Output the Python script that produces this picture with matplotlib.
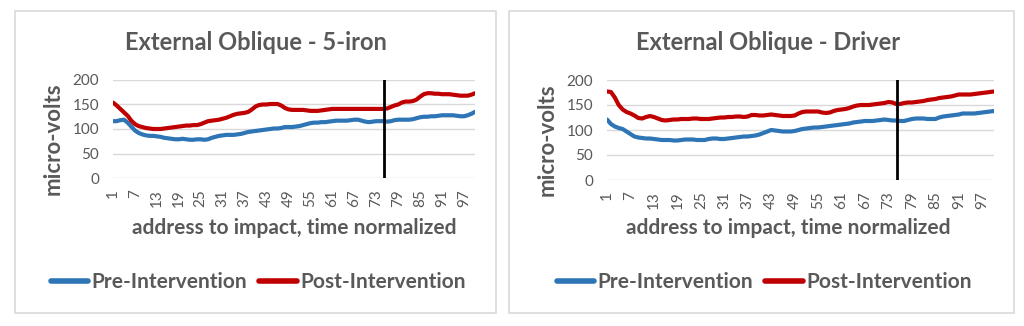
import numpy as np
import matplotlib
matplotlib.use("Agg")
import matplotlib.pyplot as plt
from matplotlib.patches import Rectangle

plt.rcParams['font.family'] = ['Lato', 'DejaVu Sans']

# time normalized samples, address (1) to impact (100)
samples = list(range(1, 101))
tick_labels = [str(i) for i in range(1, 101, 6)]

titles = ["External Oblique - 5-iron", "External Oblique - Driver"]
impact_mark = [75.2, 75.1]

iron_pre = [116, 116, 118, 119, 113, 105, 97, 92, 89, 87,
            86, 86, 85, 84, 82, 81, 80, 79, 79, 80,
            79, 78, 78, 79, 79, 78, 79, 82, 84, 86,
            87, 88, 88, 88, 89, 90, 92, 94, 95, 96,
            97, 98, 99, 100, 101, 101, 102, 104, 104, 104,
            105, 106, 108, 110, 112, 113, 113, 114, 114, 115,
            116, 117, 117, 117, 117, 118, 119, 119, 117, 115,
            114, 115, 116, 116, 116, 115, 116, 118, 119, 119,
            119, 119, 120, 122, 124, 125, 125, 126, 126, 127,
            128, 128, 128, 128, 127, 126, 126, 128, 131, 135]

iron_post = [154, 148, 141, 134, 127, 117, 110, 106, 104, 102,
             101, 100, 100, 100, 101, 102, 103, 104, 105, 106,
             107, 107, 108, 108, 110, 113, 116, 117, 118, 119,
             121, 123, 126, 129, 131, 132, 133, 135, 140, 146,
             149, 150, 150, 151, 151, 151, 148, 143, 140, 139,
             139, 139, 139, 138, 137, 137, 137, 138, 139, 140,
             141, 141, 141, 141, 141, 141, 141, 141, 141, 141,
             141, 141, 141, 141, 141, 142, 145, 148, 150, 154,
             156, 156, 157, 160, 166, 171, 173, 173, 172, 172,
             171, 171, 171, 170, 169, 168, 168, 168, 170, 173]

driver_pre = [121, 112, 107, 104, 102, 97, 92, 87, 85, 84,
              83, 83, 82, 81, 80, 80, 80, 79, 79, 80,
              81, 81, 81, 80, 80, 80, 82, 83, 83, 82,
              82, 83, 84, 85, 86, 87, 87, 88, 89, 91,
              94, 97, 100, 99, 98, 97, 97, 97, 98, 100,
              102, 103, 104, 105, 105, 106, 107, 108, 109, 110,
              111, 112, 113, 115, 116, 117, 118, 118, 118, 119,
              120, 121, 120, 119, 119, 118, 118, 120, 122, 123,
              123, 123, 122, 122, 122, 125, 127, 128, 129, 130,
              131, 133, 133, 133, 133, 134, 135, 136, 137, 138]

driver_post = [177, 176, 165, 150, 141, 136, 133, 129, 124, 123,
               126, 128, 126, 123, 120, 119, 120, 121, 121, 122,
               122, 122, 123, 123, 122, 122, 122, 123, 124, 125,
               125, 126, 126, 127, 127, 126, 127, 130, 130, 129,
               129, 130, 131, 130, 129, 128, 128, 128, 129, 133,
               136, 137, 137, 137, 137, 135, 134, 135, 138, 140,
               141, 142, 144, 147, 149, 150, 150, 150, 151, 152,
               153, 154, 156, 155, 152, 152, 154, 155, 155, 156,
               157, 158, 160, 161, 162, 164, 165, 166, 167, 169,
               171, 171, 171, 171, 172, 173, 174, 175, 176, 177]

W, H = 1024, 326
BLUE = "#2E75B6"
RED = "#C00000"
GREY = "#595959"


def fx(px):
    return px / W


def fy(py):
    return 1 - py / H


fig = plt.figure(figsize=(W / 100, H / 100), dpi=100)

# panel frames
for x0, x1 in [(15, 496), (509, 1014)]:
    fig.patches.append(Rectangle((fx(x0), fy(313)), fx(x1 - x0), (313 - 11) / H,
                                 transform=fig.transFigure, fill=False,
                                 edgecolor="#D9D9D9", lw=1.2))

# plot areas in pixels: left, right, top, bottom
areas = [(113, 475, 80, 178), (607, 994, 80, 180)]
series = [(iron_pre, iron_post), (driver_pre, driver_post)]
ylab_x = [53, 547]
title_x = [256, 768]
xlab_x = [294, 788]
legend_x = [258, 764]

for i in range(2):
    l, r, t, b = areas[i]
    ax = fig.add_axes([fx(l), fy(b), (r - l) / W, (b - t) / H])
    pre, post = series[i]
    ax.plot(samples, pre, color=BLUE, lw=3, solid_capstyle='round', label="Pre-Intervention")
    ax.plot(samples, post, color=RED, lw=3, solid_capstyle='round', label="Post-Intervention")
    ax.plot([impact_mark[i], impact_mark[i]], [0, 200], color="black", lw=2)
    ax.set_xlim(1, 100)
    ax.set_ylim(0, 200)
    ax.set_yticks(range(0, 201, 50))
    ax.set_xticks(range(1, 101, 6))
    ax.set_xticklabels(tick_labels, rotation=90)
    ax.tick_params(length=0, labelsize=11, labelcolor=GREY)
    ax.tick_params(axis='y', pad=10)
    ax.tick_params(axis='x', pad=8)
    ax.grid(axis='y', color="#D9D9D9", lw=1)
    ax.set_axisbelow(True)
    for s in ax.spines.values():
        s.set_visible(False)

    fig.text(fx(title_x[i]), fy(43), titles[i], ha='center', va='center',
             fontsize=17, fontweight='bold', color=GREY)
    fig.text(fx(ylab_x[i]), fy((t + b) / 2 + 10), "micro-volts", rotation=90,
             ha='center', va='center', fontsize=16, fontweight='bold', color=GREY)
    fig.text(fx(xlab_x[i]), fy(228), "address to impact, time normalized",
             ha='center', va='center', fontsize=15, fontweight='bold', color=GREY)
    leg = fig.legend(handles=ax.get_lines()[:2], loc='center',
                     bbox_to_anchor=(fx(legend_x[i]), fy(282)), ncol=2,
                     frameon=False, prop={'size': 15, 'weight': 'bold'},
                     handlelength=1.8, handletextpad=0.15, columnspacing=0.6)
    for txt in leg.get_texts():
        txt.set_color(GREY)
    for ln in leg.get_lines():
        ln.set_linewidth(4)

fig.savefig("out.png", dpi=100)
